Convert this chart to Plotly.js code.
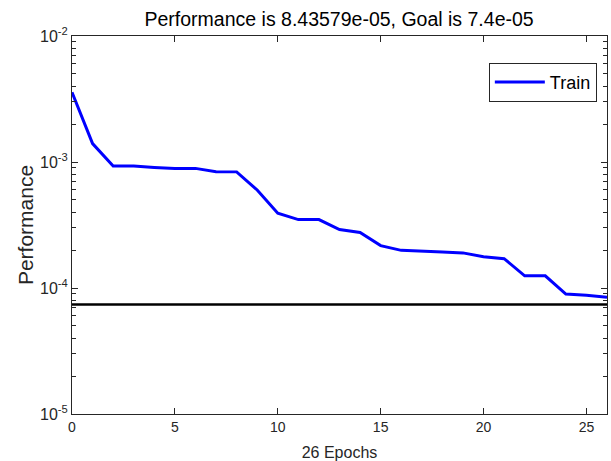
<!DOCTYPE html>
<html>
<head>
<meta charset="utf-8">
<script src="https://cdn.plot.ly/plotly-3.0.1.min.js"></script>
<style>html,body{margin:0;padding:0;background:#fff;}#chart{width:611px;height:461px;}</style>
</head>
<body>
<div id="chart"></div>
<script>
// Data
const epochs = [0,1,2,3,4,5,6,7,8,9,10,11,12,13,14,15,16,17,18,19,20,21,22,23,24,25,26];
const trainPerf = [3.58e-3,1.40e-3,9.3e-4,9.3e-4,9.06e-4,8.9e-4,8.9e-4,8.38e-4,8.35e-4,6.0e-4,3.92e-4,3.49e-4,3.49e-4,
  2.91e-4,2.76e-4,2.17e-4,1.99e-4,1.95e-4,1.93e-4,1.90e-4,1.77e-4,1.71e-4,1.25e-4,1.25e-4,8.95e-5,8.74e-5,8.43579e-5];
const goal = 7.4e-5;
const goalX = [0, 26];
const xTickVals = [0,5,10,15,20,25];
const yTickVals = [1e-5,1e-4,1e-3,1e-2];
const yTickExp = ['-5','-4','-3','-2'];

const traces = [
  {x: epochs, y: trainPerf, type:'scatter', mode:'lines', name:'Train',
   line:{color:'#0000ff', width:3}},
  {x: goalX, y: goalX.map(()=>goal), type:'scatter', mode:'lines', name:'Goal',
   line:{color:'#000000', width:2.5}, showlegend:false}
];

const FF = 'Liberation Sans, Arial, sans-serif';
const axisFont = {family:FF, size:14, color:'#262626'};
const layout = {
  width:611, height:461,
  margin:{l:72, r:4, t:36, b:47, pad:0},
  paper_bgcolor:'#fff', plot_bgcolor:'#fff',
  title:{text:'Performance is 8.43579e-05, Goal is 7.4e-05', x:0.555, xanchor:'center', y:0.958, yanchor:'middle',
         font:{family:FF, size:19.5, color:'#000'}},
  showlegend:true,
  legend:{x:0.981, xanchor:'right', y:0.929, yanchor:'top', bgcolor:'#fff', bordercolor:'#262626', borderwidth:1,
          font:{family:FF, size:18, color:'#000'}, itemwidth:50},
  xaxis:{range:[0,26], tickvals:xTickVals, ticks:'inside', ticklen:6, tickcolor:'#262626',
         showline:true, linecolor:'#262626', linewidth:1, mirror:'ticks', showgrid:false, zeroline:false,
         tickfont:axisFont,
         title:{text:'26 Epochs', font:{family:FF, size:16, color:'#262626'}, standoff:13}},
  yaxis:{type:'log', range:[-5,-2], tickvals:yTickVals,
         ticktext:yTickExp.map(e => '10<sup>' + e + '</sup>'),
         ticks:'inside', ticklen:6, tickcolor:'#262626',
         showline:true, linecolor:'#262626', linewidth:1, mirror:'ticks', showgrid:false, zeroline:false,
         tickfont:{family:FF, size:16, color:'#262626'},
         minor:{ticks:'inside', ticklen:4, tickcolor:'#262626', dtick:'D1', showgrid:false},
         title:{text:'Performance', font:{family:FF, size:21, color:'#262626'}, standoff:0}}
};
Plotly.newPlot('chart', traces, layout, {displayModeBar:false, staticPlot:true});
</script>
</body>
</html>
